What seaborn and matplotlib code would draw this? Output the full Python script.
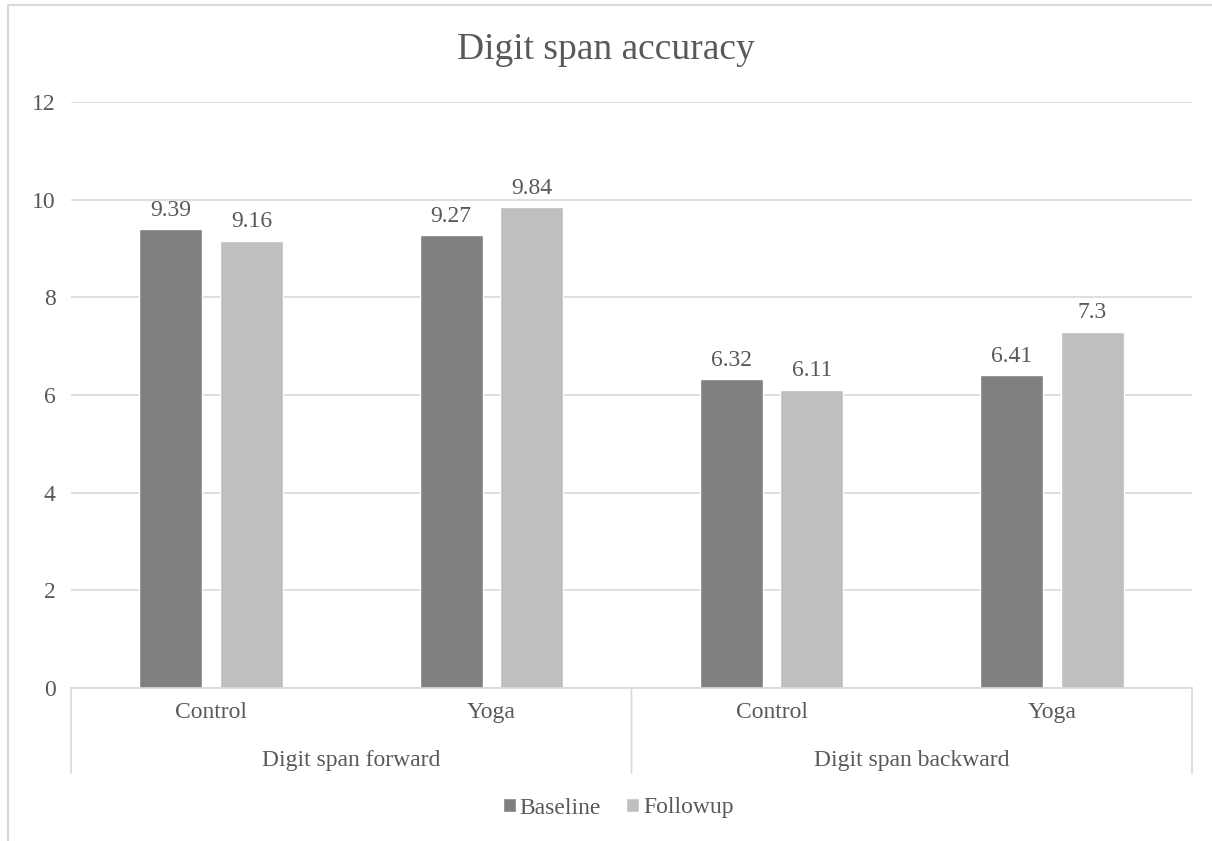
import numpy as np
import pandas as pd
import matplotlib.pyplot as plt
import matplotlib.transforms as mtransforms
from matplotlib.lines import Line2D
from matplotlib.patches import Patch
import seaborn as sns

# ── data ─────────────────────────────────────────────────────
tests      = ["Digit span forward", "Digit span backward"]
conditions = ["Control", "Yoga"]
times      = ["Baseline", "Followup"]
baseline   = [9.39, 9.27, 6.32, 6.41]   # fwd-control, fwd-yoga, bwd-control, bwd-yoga
followup   = [9.16, 9.84, 6.11, 7.3]

slots = [f"{t}|{c}" for t in tests for c in conditions]
df = pd.DataFrame({
    "slot": slots * 2,
    "time": ["Baseline"] * 4 + ["Followup"] * 4,
    "value": baseline + followup,
})

TXT  = "#595959"
GRID = "#D9D9D9"
FS   = 17
palette = {"Baseline": "#808080", "Followup": "#BFBFBF"}

sns.set_theme(style="white")
plt.rcParams["font.family"] = ["Liberation Serif", "DejaVu Serif"]

W, H = 1212, 841
fig = plt.figure(figsize=(W / 100, H / 100), dpi=100)
ax = fig.add_axes([71 / W, (H - 688) / H, 1121 / W, 586 / H])

sns.barplot(data=df, x="slot", y="value", hue="time", order=slots,
            hue_order=times, palette=palette, width=0.575, gap=0.216,
            saturation=1, ax=ax, legend=False)

for cont in ax.containers:
    ax.bar_label(cont, fmt="{:g}", padding=6, fontsize=FS, color=TXT)

ax.set_ylim(0, 12)
ax.set_xlim(-0.5, 3.5)
ax.set_yticks(range(0, 13, 2))
ax.yaxis.grid(True, color=GRID, linewidth=1.2)
ax.set_axisbelow(True)
for s in ["top", "right", "left"]:
    ax.spines[s].set_visible(False)
ax.spines["bottom"].set_color(GRID)
ax.spines["bottom"].set_linewidth(1.2)
ax.tick_params(axis="y", length=0, pad=11, labelsize=FS, labelcolor=TXT)
ax.tick_params(axis="x", length=0, pad=10, labelsize=FS, labelcolor=TXT)
ax.set_xticks(range(4))
ax.set_xticklabels(conditions * 2)
ax.set_xlabel("")
ax.set_ylabel("")

# group labels and separators under the category axis
trans = ax.get_xaxis_transform()
for i, t in enumerate(tests):
    ax.annotate(t, xy=(2 * i + 0.5, 0), xycoords=trans, xytext=(0, -52),
                textcoords="offset points", ha="center", va="center",
                fontsize=FS, color=TXT)
for x in [-0.5, 1.5, 3.5]:
    ax.annotate("", xy=(x, 0), xycoords=trans, xytext=(x, -0.145),
                textcoords=trans,
                arrowprops=dict(arrowstyle="-", color=GRID, lw=1.2,
                                shrinkA=0, shrinkB=0))

fig.text(0.5, 1 - 50 / H, "Digit span accuracy", ha="center", va="center",
         fontsize=27, color=TXT)

handles = [Patch(facecolor=palette[t], label=t) for t in times]
fig.legend(handles=handles, loc="center", bbox_to_anchor=(618 / W, 1 - 808 / H),
           ncol=2, frameon=False, fontsize=FS, labelcolor=TXT,
           handlelength=0.55, handleheight=0.55, handletextpad=0.15,
           columnspacing=1.1)

# chart-area border (only top and left edges fall inside the picture)
fig.add_artist(Line2D([8 / W, 1], [1 - 5 / H, 1 - 5 / H], transform=fig.transFigure,
                      color=GRID, lw=1.5))
fig.add_artist(Line2D([8 / W, 8 / W], [0, 1 - 5 / H], transform=fig.transFigure,
                      color=GRID, lw=1.5))

fig.savefig("out.png", dpi=100)
